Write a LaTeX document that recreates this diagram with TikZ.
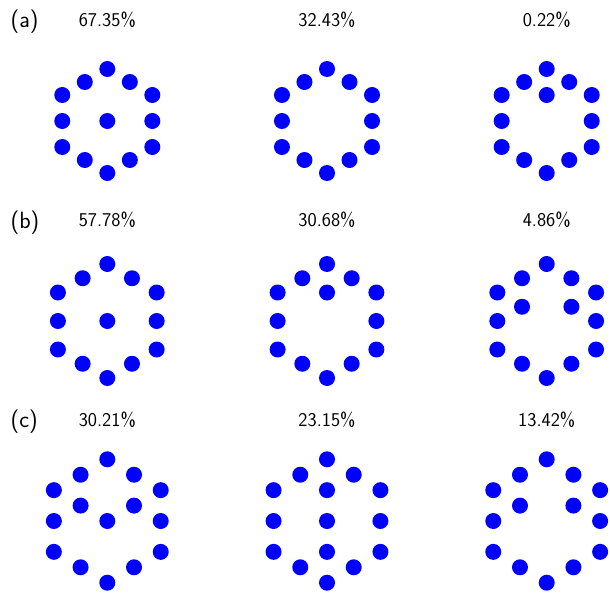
\documentclass[tikz,border=0pt]{standalone}
\usetikzlibrary{calc}
\begin{document}
\begin{tikzpicture}[x=1pt,y=-1pt,
  dot/.style={fill=blue},
  pct/.style={anchor=base,inner sep=0pt,font=\sffamily\fontsize{19.5}{23}\selectfont},
  tag/.style={anchor=base west,inner sep=0pt,font=\sffamily\fontsize{23.5}{28}\selectfont}]
\useasboundingbox (0,0) rectangle (610,594);
\def\rr{8}
% ring: #1 cx, #2 cy, #3 R
\newcommand\ringdots[3]{%
  \foreach \a in {90,30,-30,-90,-150,150}{\fill[dot] ($(#1,#2)+(\a:#3)$) circle (\rr);}%
  \foreach \a in {60,0,-60,-120,180,120}{\fill[dot] ($(#1,#2)+(\a:{#3*0.8660254})$) circle (\rr);}%
}
% row a
\node[tag] (ta) at (10.5,27.8) {(a)};
\node[pct] (pa1) at (107.3,26.3) {67.35\%};
\node[pct] (pa2) at (327,26.3) {32.43\%};
\node[pct] (pa3) at (546.7,26.3) {0.22\%};
\ringdots{107.3}{121}{52}
\ringdots{327}{121}{52}
\ringdots{546.7}{121}{52}
\fill[dot] (107.3,121) circle (\rr);
\fill[dot] (546.7,95) circle (\rr);
% row b
\node[tag] (tb) at (10.5,228) {(b)};
\node[pct] (pb1) at (107.3,226.3) {57.78\%};
\node[pct] (pb2) at (327,226.3) {30.68\%};
\node[pct] (pb3) at (546.7,226.3) {4.86\%};
\ringdots{107.3}{321}{57}
\ringdots{327}{321}{57}
\ringdots{546.7}{321}{57}
\fill[dot] (107.3,321) circle (\rr);
\fill[dot] (327,292.5) circle (\rr);
\fill[dot] (546.7-24.7,306.75) circle (\rr);
\fill[dot] (546.7+24.7,306.75) circle (\rr);
% row c
\node[tag] (tc) at (10.5,427.5) {(c)};
\node[pct] (pc1) at (107.3,426.3) {30.21\%};
\node[pct] (pc2) at (327,426.3) {23.15\%};
\node[pct] (pc3) at (546.7,426.3) {13.42\%};
\ringdots{107.3}{521}{61.7}
\ringdots{327}{521}{61.7}
\ringdots{546.7}{521}{61.7}
\fill[dot] (107.3-26.7,505.6) circle (\rr);
\fill[dot] (107.3+26.7,505.6) circle (\rr);
\fill[dot] (107.3,521) circle (\rr);
\fill[dot] (327,490.15) circle (\rr);
\fill[dot] (327,521) circle (\rr);
\fill[dot] (327,551.85) circle (\rr);
\fill[dot] (546.7-26.7,505.6) circle (\rr);
\fill[dot] (546.7+26.7,505.6) circle (\rr);
\end{tikzpicture}
\end{document}
